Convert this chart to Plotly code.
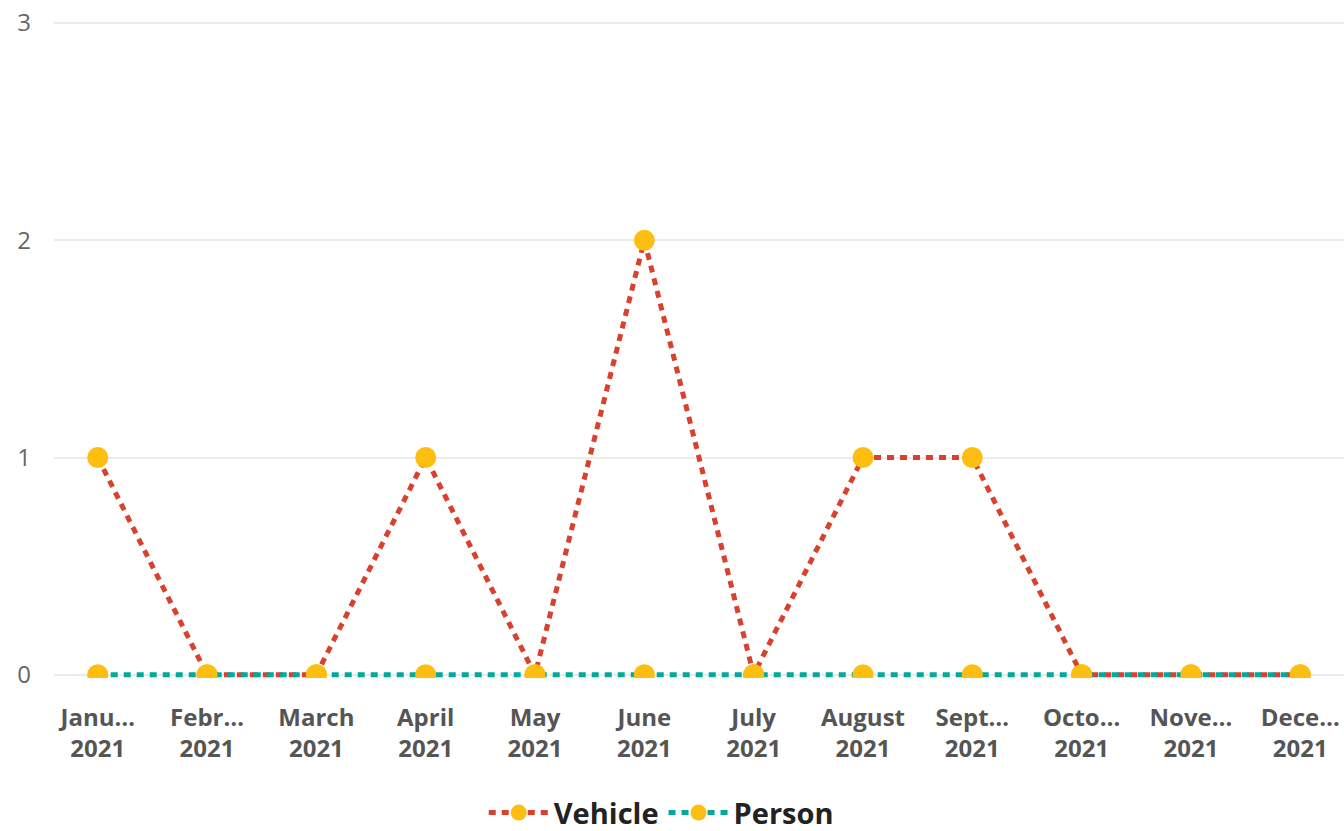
import plotly.graph_objects as go

# Monthly incident counts for 2021
months = ["Janu…", "Febr…", "March", "April", "May", "June",
          "July", "August", "Sept…", "Octo…", "Nove…", "Dece…"]
year = "2021"
vehicle = [1, 0, 0, 1, 0, 2, 0, 1, 1, 0, 0, 0]
person = [0, 0, 0, 0, 0, 0, 0, 0, 0, 0, 0, 0]

y_ticks = [0, 1, 2, 3]

x = list(range(len(months)))
tick_text = [f"<b>{m}</b><br><b>{year}</b>" for m in months]

marker_style = dict(color="#FDBE12", size=21, line=dict(width=0))

fig = go.Figure()
fig.add_trace(go.Scatter(
    x=x, y=vehicle, name="Vehicle", mode="lines+markers",
    line=dict(color="#D9412E", width=5, dash="7px,6px"),
    marker=marker_style, cliponaxis=True,
))
fig.add_trace(go.Scatter(
    x=x, y=person, name="Person", mode="lines+markers",
    line=dict(color="#03A99C", width=5, dash="7px,6px"),
    marker=marker_style, cliponaxis=True,
))

fig.update_layout(
    width=1344, height=831,
    margin=dict(l=54, r=0, t=22, b=153, autoexpand=False),
    paper_bgcolor="white", plot_bgcolor="white",
    font=dict(family="Segoe UI, Open Sans, sans-serif"),
    showlegend=True,
    legend=dict(
        orientation="h", xref="container", x=0.492, xanchor="center",
        yref="container", y=0.022, yanchor="middle",
        font=dict(size=29, color="#222222", family="Open Sans, sans-serif", weight="bold"),
        itemsizing="trace", traceorder="normal", itemwidth=60,
    ),
    xaxis=dict(
        tickmode="array", tickvals=x, ticktext=tick_text,
        range=[-0.4, 11.4], showgrid=False, zeroline=False, showline=False,
        ticks="", automargin=False,
        tickfont=dict(size=24, color="#555555", family="Open Sans, sans-serif"),
        ticklabelstandoff=23,
    ),
    yaxis=dict(
        tickmode="array", tickvals=y_ticks, range=[-0.015, 3.005],
        showgrid=True, gridcolor="#EBEBEB", gridwidth=1.5,
        zeroline=False, showline=False, ticks="", automargin=False,
        tickfont=dict(size=24, color="#666666", family="Open Sans, sans-serif"),
        ticklabelstandoff=22,
    ),
)

fig.write_html("out.html")
